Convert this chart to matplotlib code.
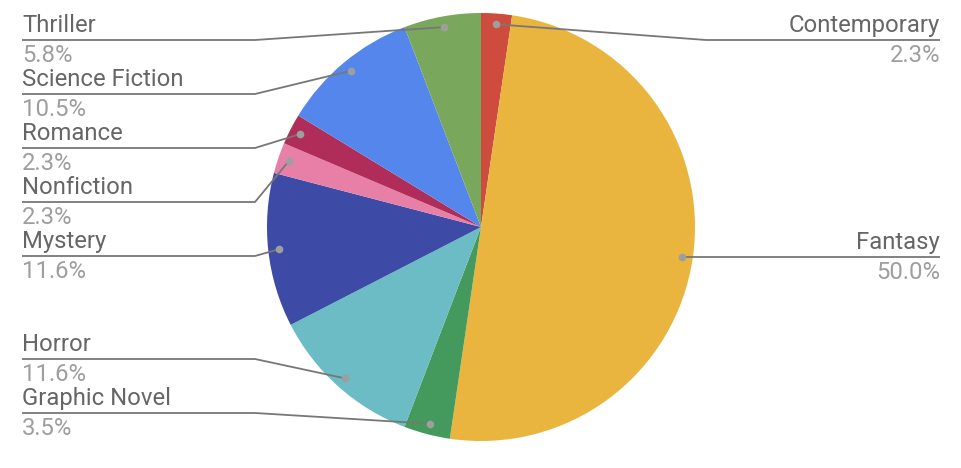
import matplotlib
matplotlib.use("Agg")
import matplotlib.pyplot as plt
import numpy as np

plt.rcParams['font.family'] = ['Roboto', 'DejaVu Sans']

categories = ["Contemporary", "Fantasy", "Graphic Novel", "Horror", "Mystery",
              "Nonfiction", "Romance", "Science Fiction", "Thriller"]
counts = [2, 43, 3, 10, 10, 2, 2, 9, 5]
colors = ["#cd4c3e", "#e9b53e", "#439a5c", "#6bbcc4", "#3d4ba6",
          "#e87fa7", "#b02d5a", "#5486eb", "#79a85c"]

W, H = 961, 468
fig = plt.figure(figsize=(W / 100, H / 100), dpi=100)
ax = fig.add_axes([0, 0, 1, 1])

cx, cy_s, R = 481, 227, 214
cy = H - cy_s
ax.pie(counts, colors=colors, startangle=90, counterclock=False,
       center=(cx, cy), radius=R, frame=True,
       wedgeprops=dict(linewidth=0))
ax.set_xlim(0, W)
ax.set_ylim(0, H)
ax.axis('off')

total = sum(counts)
cum = np.cumsum([0] + counts[:-1])
mid = 90 - 360 * (cum + np.array(counts) / 2) / total
dx = cx + 0.95 * R * np.cos(np.radians(mid))
dy = cy + 0.95 * R * np.sin(np.radians(mid))

top, bottom, gap = 40, 413, 54
line_col = "#777777"
name_col = "#666666"
pct_col = "#9e9e9e"
fs = 17.2

for side in ("left", "right"):
    idx = [i for i in range(len(counts)) if (dx[i] < cx) == (side == "left")]
    idx.sort(key=lambda i: H - dy[i])
    ys = [H - dy[i] for i in idx]
    for k in range(len(ys)):
        lo = top if k == 0 else ys[k - 1] + gap
        ys[k] = max(ys[k], lo)
    for k in range(len(ys) - 1, -1, -1):
        hi = bottom if k == len(ys) - 1 else ys[k + 1] - gap
        ys[k] = min(ys[k], hi)
    for i, ly in zip(idx, ys):
        yy = H - ly
        if side == "left":
            xs = [22, 255, dx[i]]
            tx, ha = 22, "left"
        else:
            xs = [940, 706, dx[i]]
            tx, ha = 940, "right"
        ax.plot(xs, [yy, yy, dy[i]], color=line_col, lw=1.3,
                solid_capstyle='butt', zorder=3)
        ax.plot([dx[i]], [dy[i]], 'o', color="#9e9e9e", ms=5.5,
                mec='none', zorder=4)
        ax.text(tx, yy + 8, categories[i], ha=ha, va='baseline',
                fontsize=fs, color=name_col)
        ax.text(tx, yy - 22, f"{counts[i] / total * 100:.1f}%", ha=ha,
                va='baseline', fontsize=fs, color=pct_col)

fig.savefig("out.png", dpi=100)
